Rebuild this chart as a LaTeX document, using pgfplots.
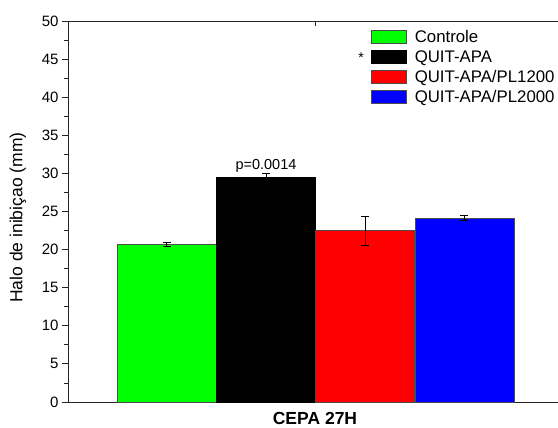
\documentclass[border=0pt]{standalone}
\usepackage{pgfplots}
\pgfplotsset{compat=1.18}
\usepackage{fontspec}
\setmainfont{Liberation Sans}
\definecolor{cgreen}{RGB}{0,255,0}
\definecolor{cred}{RGB}{255,0,0}
\definecolor{cblue}{RGB}{0,0,255}
\pgfplotsset{boxlegend/.style={legend image code/.code={\draw[##1] (0pt,-6.5pt) rectangle (35pt,6.5pt);}},
  mybar/.style={ybar, bar width=99, bar shift=0pt, line width=0.6pt, boxlegend,
  error bars/.cd, y dir=both, y explicit,
  error bar style={black, line width=0.8pt},
  error mark options={rotate=90, mark size=4pt, black, line width=0.8pt}}}
\begin{document}
\begin{tikzpicture}[x=1pt,y=1pt]
\useasboundingbox (0,0) rectangle (558,428);
\begin{axis}[
  at={(68pt,26pt)}, anchor=south west,
  scale only axis, width=490pt, height=381pt,
  xmin=68, xmax=558, ymin=0, ymax=50,
  clip=false,
  axis lines*=left,
  axis line style={line width=0.9pt, black!85},
  xtick=\empty,
  ytick distance=5, minor y tick num=1,
  tick align=outside,
  major tick length=6pt, minor tick length=3.5pt,
  every tick/.style={black!85, line width=0.8pt},
  /pgf/number format/assume math mode=true,
  ticklabel style={font=\fontsize{15}{17}\selectfont},
  ylabel={Halo de inibiçao (mm)},
  ylabel style={at={(rel axis cs:0,0.484)}, anchor=center, xshift=0pt, yshift=50pt, font=\fontsize{17.5}{20}\selectfont},
  xlabel={CEPA 27H},
  xlabel style={at={(axis cs:315,0)}, anchor=center, yshift=-16pt, inner sep=1pt, font=\bfseries\fontsize{17.5}{20}\selectfont},
  legend style={at={(axis cs:371,49.1)}, anchor=north west, draw=none, fill=none,
    font=\fontsize{16.8}{20}\selectfont, row sep=2.6pt, inner sep=0pt, column sep=6pt},
  legend cell align=left,
]
\addplot[fill=cgreen, draw=black!70, mybar]
  coordinates {(166.6,20.7) +- (0,0.3)};
\addlegendentry{Controle}
\addplot[fill=black, draw=black, mybar]
  coordinates {(266,29.5) +- (0,0.5)};
\addlegendentry{QUIT-APA}
\addplot[fill=cred, draw=black!70, mybar]
  coordinates {(365,22.5) +- (0,1.9)};
\addlegendentry{QUIT-APA/PL1200}
\addplot[fill=cblue, draw=black!70, mybar]
  coordinates {(464.3,24.15) +- (0,0.3)};
\addlegendentry{QUIT-APA/PL2000}
\draw[line width=0.9pt, black!85] (axis cs:68,50) -- (axis cs:558,50);
\draw[line width=0.8pt, black!85] (axis cs:315,50) -- (axis cs:315,49.35);
\node[font=\fontsize{14.5}{17}\selectfont, anchor=center] at (axis cs:266,31.0) {p=0.0014};
\node[font=\fontsize{14}{16}\selectfont, anchor=center] at (axis cs:361,45.2) {*};
\end{axis}
\end{tikzpicture}
\end{document}
